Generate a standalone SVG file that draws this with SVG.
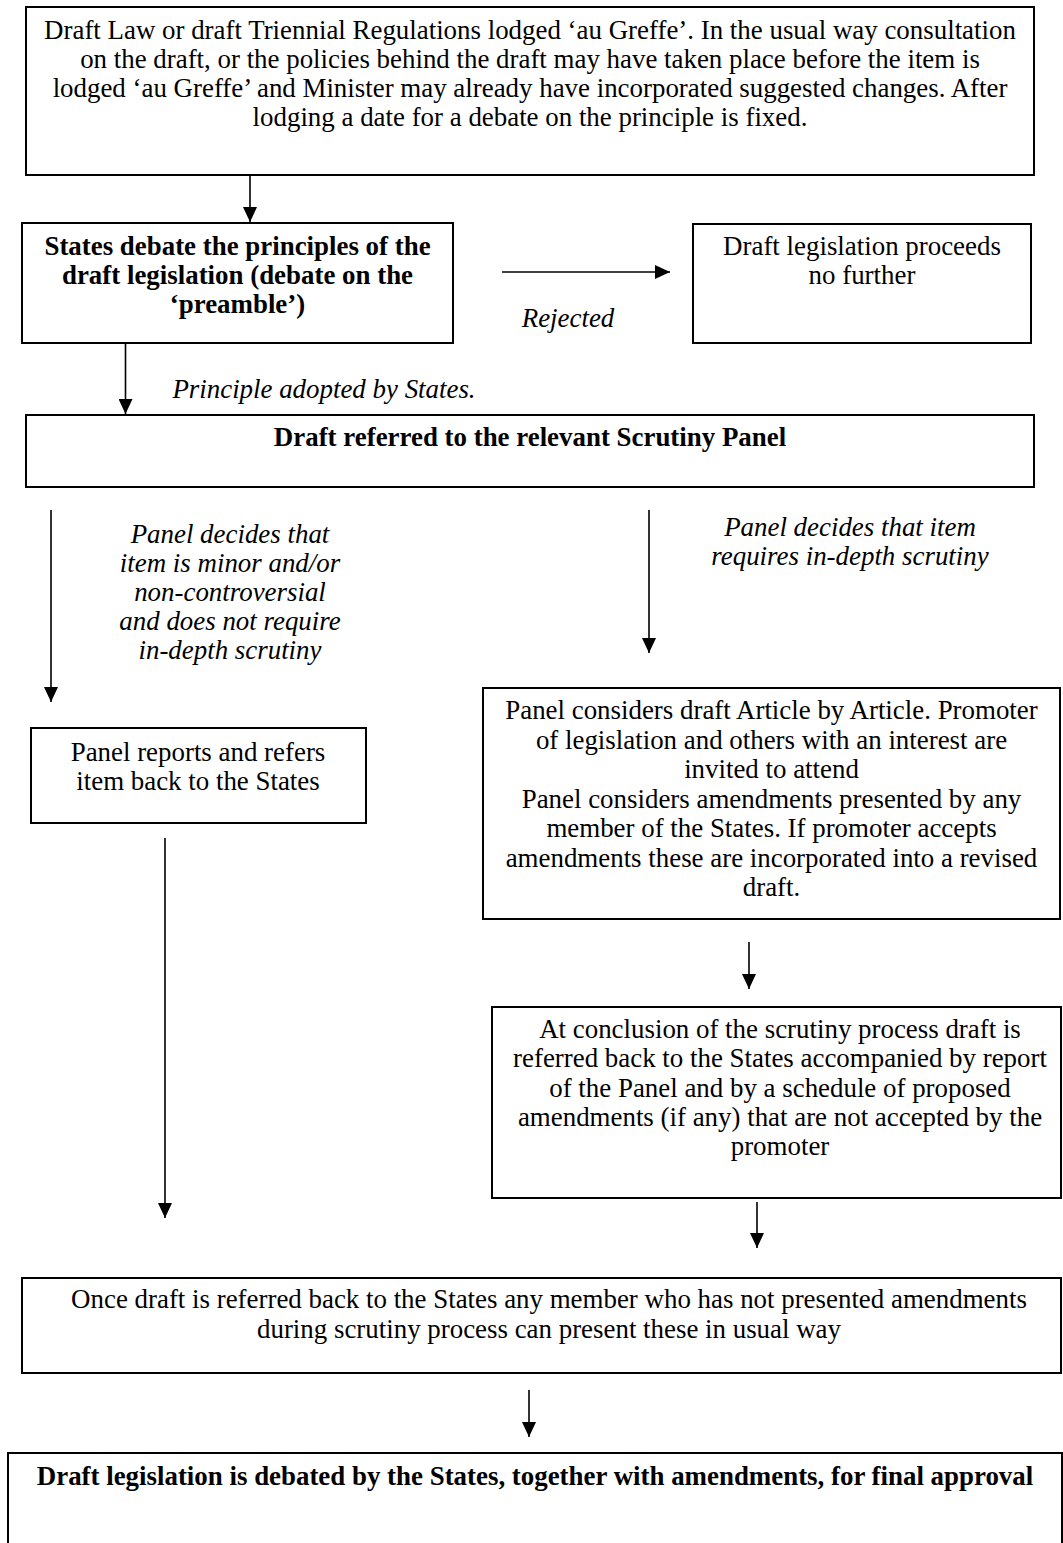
<svg xmlns="http://www.w3.org/2000/svg" width="1063" height="1543" viewBox="0 0 1063 1543">
<style>
.box{fill:#fff;stroke:#000;stroke-width:2}
.t{font-family:"Liberation Serif","Times New Roman",serif;font-size:26.9px;fill:#000;text-anchor:middle}
.b{font-weight:bold}
.i{font-style:italic}
.c{stroke:#000;stroke-width:1.6;fill:none}
</style>
<defs>
<marker id="ah" markerUnits="userSpaceOnUse" viewBox="0 0 15 14" refX="15" refY="7" markerWidth="15" markerHeight="14" orient="auto">
<path d="M0,0 L15,7 L0,14 z" fill="#000"/>
</marker>
</defs>
<rect width="1063" height="1543" fill="#fff"/>
<g id="n1">
<rect class="box" x="26" y="7" width="1008" height="168"/>
<text class="t" x="530" y="39">Draft Law or draft Triennial Regulations lodged ‘au Greffe’. In the usual way consultation</text>
<text class="t" x="530" y="68">on the draft, or the policies behind the draft may have taken place before the item is</text>
<text class="t" x="530" y="97">lodged ‘au Greffe’ and Minister may already have incorporated suggested changes. After</text>
<text class="t" x="530" y="126">lodging a date for a debate on the principle is fixed.</text>
</g>
<g id="n2">
<rect class="box" x="22" y="223" width="431" height="120"/>
<text class="t b" x="237.5" y="255">States debate the principles of the</text>
<text class="t b" x="237.5" y="284">draft legislation (debate on the</text>
<text class="t b" x="237.5" y="313">‘preamble’)</text>
</g>
<g id="n3">
<rect class="box" x="693" y="224" width="338" height="119"/>
<text class="t" x="862" y="255">Draft legislation proceeds</text>
<text class="t" x="862" y="284">no further</text>
</g>
<g id="n4">
<rect class="box" x="26" y="415" width="1008" height="72"/>
<text class="t b" x="530" y="446">Draft referred to the relevant Scrutiny Panel</text>
</g>
<g id="n5">
<rect class="box" x="31" y="728" width="335" height="95"/>
<text class="t" x="198" y="761">Panel reports and refers</text>
<text class="t" x="198" y="790">item back to the States</text>
</g>
<g id="n6">
<rect class="box" x="483" y="688" width="577" height="231"/>
<text class="t" x="771.5" y="719">Panel considers draft Article by Article. Promoter</text>
<text class="t" x="771.5" y="748.5">of legislation and others with an interest are</text>
<text class="t" x="771.5" y="778">invited to attend</text>
<text class="t" x="771.5" y="807.5">Panel considers amendments presented by any</text>
<text class="t" x="771.5" y="837">member of the States. If promoter accepts</text>
<text class="t" x="771.5" y="866.5">amendments these are incorporated into a revised</text>
<text class="t" x="771.5" y="896">draft.</text>
</g>
<g id="n7">
<rect class="box" x="492" y="1007" width="569" height="191"/>
<text class="t" x="780" y="1038">At conclusion of the scrutiny process draft is</text>
<text class="t" x="780" y="1067">referred back to the States accompanied by report</text>
<text class="t" x="780" y="1096.5">of the Panel and by a schedule of proposed</text>
<text class="t" x="780" y="1126">amendments (if any) that are not accepted by the</text>
<text class="t" x="780" y="1155">promoter</text>
</g>
<g id="n8">
<rect class="box" x="22" y="1278" width="1039" height="95"/>
<text class="t" x="549" y="1308">Once draft is referred back to the States any member who has not presented amendments</text>
<text class="t" x="549" y="1338">during scrutiny process can present these in usual way</text>
</g>
<g id="n9">
<rect class="box" x="8" y="1453" width="1054" height="120"/>
<text class="t b" x="535" y="1485">Draft legislation is debated by the States, together with amendments, for final approval</text>
</g>
<g id="connectors">
<line class="c" x1="250" y1="175" x2="250" y2="222" marker-end="url(#ah)"/>
<line class="c" x1="502" y1="272" x2="670" y2="272" marker-end="url(#ah)"/>
<text class="t i" x="568" y="327">Rejected</text>
<line class="c" x1="125.5" y1="343" x2="125.5" y2="414" marker-end="url(#ah)"/>
<text class="t i" x="324" y="398">Principle adopted by States.</text>
<line class="c" x1="51" y1="510" x2="51" y2="702" marker-end="url(#ah)"/>
<text class="t i" x="230" y="543">Panel decides that</text>
<text class="t i" x="230" y="572">item is minor and/or</text>
<text class="t i" x="230" y="601">non-controversial</text>
<text class="t i" x="230" y="630">and does not require</text>
<text class="t i" x="230" y="659">in-depth scrutiny</text>
<line class="c" x1="649" y1="510" x2="649" y2="653" marker-end="url(#ah)"/>
<text class="t i" x="850" y="536">Panel decides that item</text>
<text class="t i" x="850" y="565">requires in-depth scrutiny</text>
<line class="c" x1="165" y1="838" x2="165" y2="1218" marker-end="url(#ah)"/>
<line class="c" x1="749" y1="942" x2="749" y2="989" marker-end="url(#ah)"/>
<line class="c" x1="757" y1="1202" x2="757" y2="1248" marker-end="url(#ah)"/>
<line class="c" x1="529" y1="1390" x2="529" y2="1437" marker-end="url(#ah)"/>
</g>
</svg>
